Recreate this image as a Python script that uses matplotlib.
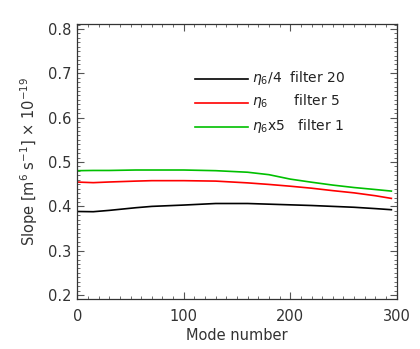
import numpy as np
import matplotlib
matplotlib.use("Agg")
import matplotlib.pyplot as plt
from matplotlib.ticker import MultipleLocator

# values
mode = [0, 15, 30, 55, 70, 100, 130, 160, 180, 200, 220, 240, 260, 280, 295]
slope_f20 = [0.3885, 0.388, 0.391, 0.397, 0.400, 0.403, 0.4065, 0.4065, 0.405,
             0.4035, 0.402, 0.400, 0.398, 0.395, 0.3925]
slope_f5 = [0.4548, 0.4535, 0.455, 0.457, 0.458, 0.458, 0.457, 0.453, 0.4495,
            0.4455, 0.441, 0.4355, 0.4305, 0.424, 0.418]
slope_f1 = [0.4805, 0.481, 0.481, 0.482, 0.482, 0.482, 0.4805, 0.477, 0.4715,
            0.4615, 0.4545, 0.448, 0.4425, 0.438, 0.4345]

labels = [r"$\eta_6$/4  filter 20", r"$\eta_6$      filter 5", r"$\eta_6$x5   filter 1"]
colors = ["black", "#ff0000", "#00c000"]
series = [slope_f20, slope_f5, slope_f1]

fig = plt.figure(figsize=(4.2, 3.49), dpi=100)
ax = fig.add_axes([0.184, 0.143, 0.7605, 0.788])

for y, c in zip(series, colors):
    ax.plot(mode, y, color=c, lw=1.2)

ax.set_xlim(0, 300)
ax.set_ylim(0.191, 0.811)
ax.xaxis.set_major_locator(MultipleLocator(100))
ax.xaxis.set_minor_locator(MultipleLocator(10))
ax.yaxis.set_major_locator(MultipleLocator(0.1))
ax.yaxis.set_minor_locator(MultipleLocator(0.01))
ax.yaxis.set_major_formatter(matplotlib.ticker.FormatStrFormatter("%.1f"))
ax.tick_params(which="both", direction="in", top=True, right=True,
               color="#555555", labelcolor="#333333", labelsize=10.5)
ax.tick_params(which="major", length=5, width=0.8, pad=4)
ax.tick_params(axis="x", which="major", pad=7)
ax.tick_params(which="minor", length=2.5, width=0.6)
for s in ax.spines.values():
    s.set_linewidth(0.9)
    s.set_color("#333333")

ax.set_xlabel("Mode number", fontsize=10.5, color="#333333", labelpad=3)
ax.set_ylabel(r"Slope [m$^6$ s$^{-1}$] $\times$ 10$^{-19}$", fontsize=10.5,
              color="#333333", labelpad=6)

# hand-made legend like the IDL original
leg_y = [0.80, 0.714, 0.625]
for lab, c, yy in zip(labels, colors, leg_y):
    ax.plot([0.37, 0.535], [yy, yy], color=c, lw=1.2, transform=ax.transAxes)
    ax.text(0.548, yy + 0.005, lab, transform=ax.transAxes, fontsize=10,
            va="center", ha="left", color="#222222")

fig.savefig("out.png", dpi=100)
